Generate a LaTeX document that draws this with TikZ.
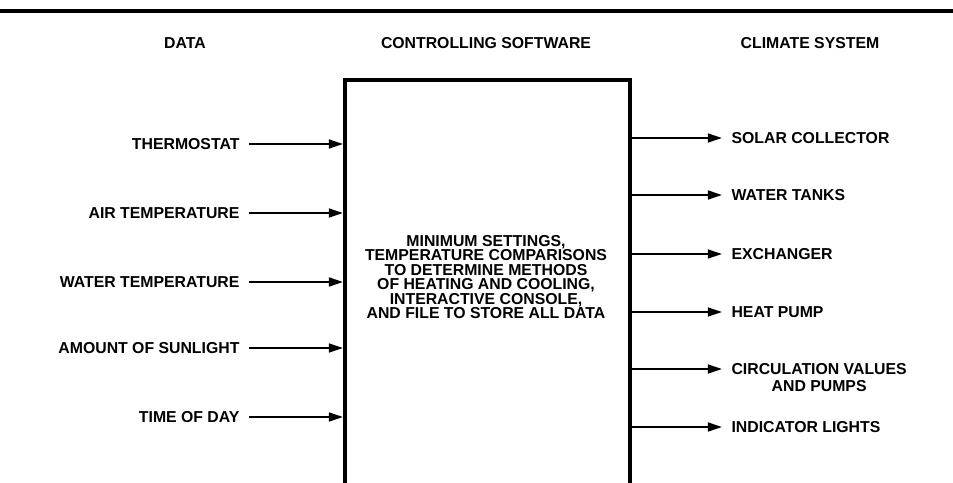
\documentclass[tikz,border=0pt]{standalone}
\usepackage{fontspec}
\setmainfont{Liberation Sans}
\usepackage{tikz}
\usetikzlibrary{positioning, arrows.meta}

\begin{document}
\begin{tikzpicture}[
    x=0.03cm, y=-0.03cm,
    lbl/.style={inner ysep=0pt, inner xsep=0.28cm, font=\fontsize{13.5}{12.4}\selectfont\bfseries},
    head/.style={inner sep=0pt, font=\fontsize{13.5}{12.4}\selectfont\bfseries},
    swbox/.style={draw, line width=3.2pt, rectangle, minimum width=8.55cm, minimum height=12.9cm, anchor=north west},
    flow/.style={line width=1.8pt, -{Triangle[length=12pt, width=7.5pt]}},
]
\useasboundingbox (0,0) rectangle (953,483);
\clip (0,0) rectangle (953,483);

% Rule and headings
\draw[line width=3pt] (0,11) -- (953,11);
\node[head] (hdata) at (185,43) {DATA};
\node[head] (hsoft) at (486,43) {CONTROLLING SOFTWARE};
\node[head] (hclim) at (810,43) {CLIMATE SYSTEM};

% Software box
\node[swbox] (box) at (343,78) {};
\node[head, align=center] (plan) at (486,277) {MINIMUM SETTINGS,\\TEMPERATURE COMPARISONS\\TO DETERMINE METHODS\\OF HEATING AND COOLING,\\INTERACTIVE CONSOLE,\\AND FILE TO STORE ALL DATA};

% Data
\node[lbl, anchor=east] (in1) at (249,144) {THERMOSTAT};
\node[lbl, anchor=east] (in2) at (249,213) {AIR TEMPERATURE};
\node[lbl, anchor=east] (in3) at (249,282) {WATER TEMPERATURE};
\node[lbl, anchor=east] (in4) at (249,348) {AMOUNT OF SUNLIGHT};
\node[lbl, anchor=east] (in5) at (249,417) {TIME OF DAY};

% Climate system
\node[lbl, anchor=west] (out1) at (722,138) {SOLAR COLLECTOR};
\node[lbl, anchor=west] (out2) at (722,195) {WATER TANKS};
\node[lbl, anchor=west] (out3) at (722,254) {EXCHANGER};
\node[lbl, anchor=west] (out4) at (722,312) {HEAT PUMP};
\node[lbl, anchor=north west, align=center, font=\fontsize{13.5}{15}\selectfont\bfseries] (out5) at (722,363) {CIRCULATION VALUES\\AND PUMPS};
\node[lbl, anchor=west] (out6) at (722,427) {INDICATOR LIGHTS};
\coordinate (tip5) at (722,369);

% Input arrows
\foreach \i in {1,...,5}
    \draw[flow] (in\i.east) -- (in\i -| box.west);

% Output arrows
\foreach \i in {1,2,3,4,6}
    \draw[flow] (box.east |- out\i) -- (out\i.west);
\draw[flow] (box.east |- tip5) -- (tip5);
\end{tikzpicture}
\end{document}
